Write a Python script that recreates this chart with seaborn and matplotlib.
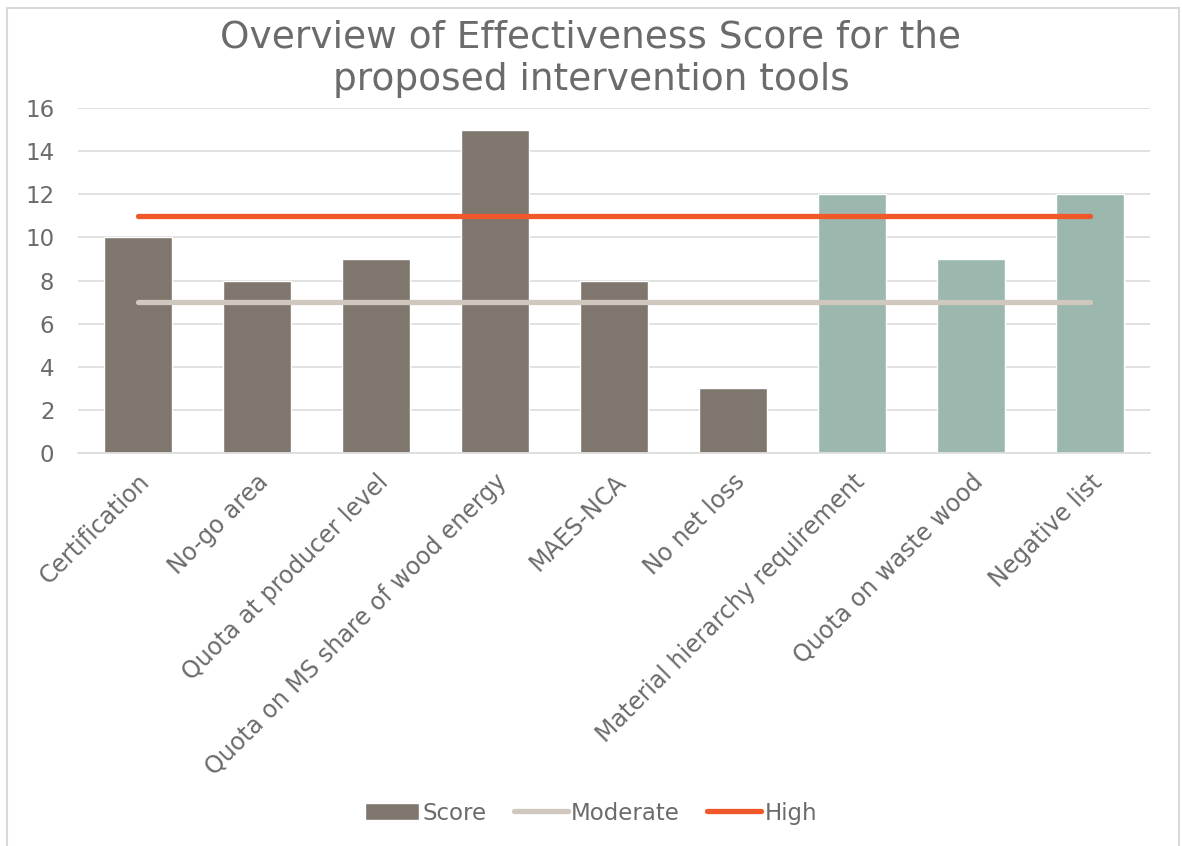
import numpy as np
import pandas as pd
import matplotlib.pyplot as plt
import seaborn as sns
from matplotlib.patches import Patch, Rectangle
from matplotlib.lines import Line2D

tools = ["Certification", "No-go area", "Quota at producer level",
         "Quota on MS share of wood energy", "MAES-NCA", "No net loss",
         "Material hierarchy requirement", "Quota on waste wood", "Negative list"]
scores = [10, 8, 9, 15, 8, 3, 12, 9, 12]
groups = ["a", "a", "a", "a", "a", "a", "b", "b", "b"]
moderate = [7] * 9
high = [11] * 9

BROWN = "#7f776d"
GREEN = "#9bb7ae"
MOD_C = "#d0c8be"
HIGH_C = "#f0572a"
TXT = "#6b6b6b"


def main():
    sns.set_style("white")
    plt.rcParams["font.family"] = ["DejaVu Sans"]
    df = pd.DataFrame({"tool": tools, "score": scores, "group": groups})

    fig = plt.figure(figsize=(11.82, 8.46), dpi=100)
    ax = fig.add_axes([78 / 1182, 1 - 453 / 846, (1150 - 78) / 1182, (453 - 108) / 846])

    sns.barplot(data=df, x="tool", y="score", hue="group", palette=[BROWN, GREEN],
                dodge=False, width=0.57, saturation=1, legend=False, ax=ax, zorder=2)
    sns.pointplot(x=tools, y=moderate, color=MOD_C, markers="", linewidth=3.8,
                  ax=ax, zorder=3)
    sns.pointplot(x=tools, y=high, color=HIGH_C, markers="", linewidth=3.8,
                  ax=ax, zorder=3)
    for ln in ax.lines:
        ln.set_solid_capstyle("round")

    ax.set_ylim(0, 16)
    ax.set_yticks(range(0, 17, 2))
    ax.set_xlim(-0.5, 8.5)
    ax.yaxis.grid(True, color="#dedede", linewidth=1.3, zorder=0)
    ax.set_axisbelow(True)
    for s in ["top", "right", "left"]:
        ax.spines[s].set_visible(False)
    ax.spines["bottom"].set_color("#dedede")
    ax.spines["bottom"].set_linewidth(1.3)
    ax.set_xlabel("")
    ax.set_ylabel("")
    ax.tick_params(axis="x", length=0, labelsize=17, colors=TXT, pad=12)
    ax.tick_params(axis="y", length=0, labelsize=16.5, colors=TXT, pad=17)
    plt.setp(ax.get_xticklabels(), rotation=45, ha="right", rotation_mode="anchor")

    fig.text(0.5, 1 - 59 / 846, "Overview of Effectiveness Score for the\nproposed intervention tools",
             ha="center", va="center", fontsize=27, color=TXT, linespacing=1.22)

    handles = [Patch(facecolor=BROWN), Line2D([], [], color=MOD_C, lw=3.8, solid_capstyle="round"),
               Line2D([], [], color=HIGH_C, lw=3.8, solid_capstyle="round")]
    leg = fig.legend(handles, ["Score", "Moderate", "High"], loc="center",
                     bbox_to_anchor=(0.5, 1 - 813 / 846), ncol=3, frameon=False,
                     fontsize=16.5, handlelength=2.35, handleheight=0.75,
                     handletextpad=0.15, columnspacing=1.2)
    for t in leg.get_texts():
        t.set_color(TXT)

    fig.patches.append(Rectangle((7 / 1182, -0.01), (1179 - 7) / 1182, 1 - 8 / 846 + 0.01,
                                 transform=fig.transFigure, fill=False,
                                 edgecolor="#d9d9d9", linewidth=1.5))

    fig.savefig("out.png", dpi=100)


if __name__ == "__main__":
    main()
